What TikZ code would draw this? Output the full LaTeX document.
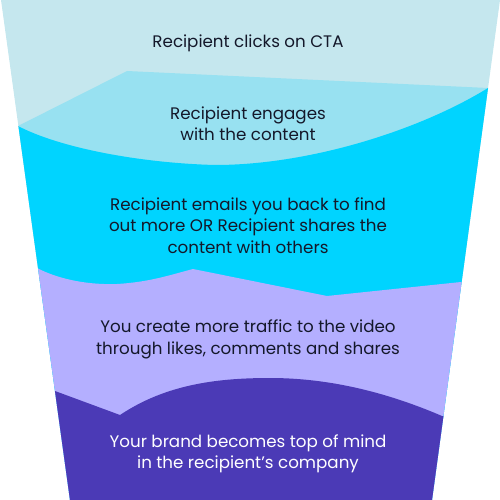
\documentclass[tikz,border=0pt]{standalone}
\usepackage{fontspec}
\setmainfont{Poppins}
\definecolor{cA}{HTML}{C5E7EE}
\definecolor{cB}{HTML}{98E1F1}
\definecolor{cC}{HTML}{00D4FF}
\definecolor{cD}{HTML}{B4AFFF}
\definecolor{cE}{HTML}{4B3AB6}
\definecolor{textdark}{HTML}{14182A}
\begin{document}
\begin{tikzpicture}[x=1pt,y=-1pt,
  lbl/.style={font=\fontsize{16.7}{21.5}\selectfont, align=center, text=textdark, inner sep=0pt}]
\useasboundingbox (0,0) rectangle (500,500);
\begin{scope}
\clip (1,0) -- (500,0) -- (432,500) -- (70,500) -- cycle;
\fill[cA] (-10,-10) rectangle (510,510);
\fill[cB] (-10,126) -- (18,126) -- (127,71) -- (488,88) -- (510,88) -- (510,510) -- (-10,510) -- cycle;
\fill[cC] (-10,126) -- (18,126) .. controls (60,148) and (140,163) .. (215,165)
  .. controls (310,165) and (420,130) .. (488,88) -- (510,88) -- (510,510) -- (-10,510) -- cycle;
\fill[cD] (-10,268) -- (37,268) .. controls (60,280) and (90,285) .. (117,284)
  .. controls (150,282) and (170,275) .. (193,269) -- (327,296) -- (461,282) -- (510,282) -- (510,510) -- (-10,510) -- cycle;
\fill[cE] (-10,391) -- (55,391) -- (120,415) .. controls (165,385) and (215,378) .. (270,378)
  .. controls (340,378) and (400,398) .. (442,416) -- (510,416) -- (510,510) -- (-10,510) -- cycle;
\end{scope}
\node[lbl] (t1) at (248,43.5) {Recipient clicks on CTA};
\node[lbl] (t2) at (248,123.5) {Recipient engages\\with the content};
\node[lbl] (t3) at (248,225.5) {Recipient emails you back to find\\out more OR Recipient shares the\\content with others};
\node[lbl] (t4) at (248,339.5) {You create more traffic to the video\\through likes, comments and shares};
\node[lbl, text=white] (t5) at (248,454) {Your brand becomes top of mind\\in the recipient’s company};
\end{tikzpicture}
\end{document}
